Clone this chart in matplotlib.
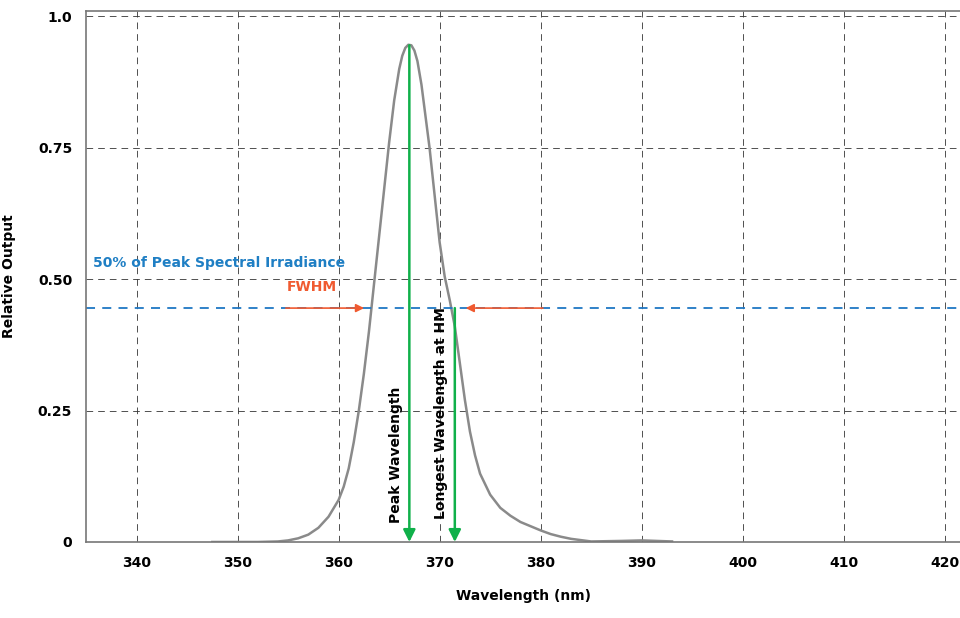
import numpy as np
import matplotlib.pyplot as plt

wl = [347.5, 350, 352, 354, 355, 356, 357, 358, 359, 360, 360.5, 361, 361.5, 362, 362.5, 363,
      363.5, 364, 364.5, 365, 365.5, 366, 366.3, 366.6, 366.9, 367.2, 367.5, 367.8, 368.2, 368.6,
      369, 369.5, 370, 370.5, 371, 371.5, 372, 372.5, 373, 373.5, 374, 375, 376, 377, 378, 379,
      380, 381, 382, 383, 385, 388, 390, 393]
rel = [0.0, 0.0, 0.0, 0.001, 0.003, 0.007, 0.014, 0.027, 0.048, 0.08, 0.105, 0.14, 0.19, 0.25,
       0.32, 0.40, 0.49, 0.58, 0.67, 0.76, 0.84, 0.9, 0.925, 0.94, 0.946, 0.945, 0.935, 0.915,
       0.87, 0.81, 0.75, 0.66, 0.57, 0.505, 0.46, 0.41, 0.34, 0.27, 0.21, 0.165, 0.13, 0.09,
       0.065, 0.05, 0.038, 0.03, 0.022, 0.015, 0.01, 0.006, 0.001, 0.002, 0.003, 0.001]
half_max = 0.445
peak_wl = 367.0
long_wl = 371.5

fig = plt.figure(figsize=(9.6, 6.18), dpi=100)
ax = fig.add_axes([0.0896, 0.123, 0.9104, 0.859])
ax.plot(wl, rel, color="#8a8a8a", lw=1.8)
ax.set_xlim(335, 421.5)
ax.set_ylim(0, 1.01)
ax.set_xticks(range(340, 421, 10))
ax.set_yticks([0, 0.25, 0.5, 0.75, 1.0])
ax.set_yticklabels(["0", "0.25", "0.50", "0.75", "1.0"])
ax.grid(True, color="#333333", ls=(0, (8, 6)), lw=0.6)
ax.spines["right"].set_visible(False)
for s in ["left", "bottom", "top"]:
    ax.spines[s].set_color("#777777")
    ax.spines[s].set_linewidth(1.2)
ax.tick_params(length=0, pad=10, labelsize=10)
for lab in ax.get_xticklabels() + ax.get_yticklabels():
    lab.set_fontweight("bold")
ax.set_xlabel("Wavelength (nm)", fontweight="bold", fontsize=10, labelpad=14)
ax.set_ylabel("Relative Output", fontweight="bold", fontsize=10, labelpad=16)

ax.axhline(half_max, color="#1f77c4", ls=(0, (5, 4)), lw=1.3)
ax.text(335.7, 0.53, "50% of Peak Spectral Irradiance", color="#1f7fc4",
        fontweight="bold", fontsize=10, va="center")
ax.text(357.3, 0.485, "FWHM", color="#f05a30", fontweight="bold", fontsize=10, ha="center", va="center")

red = dict(arrowstyle="-|>", color="#f05a30", lw=1.2, mutation_scale=12)
ax.annotate("", xy=(362.8, half_max), xytext=(354.5, half_max), arrowprops=red)
ax.annotate("", xy=(372.3, half_max), xytext=(380.5, half_max), arrowprops=red)

green = dict(arrowstyle="-|>", color="#10b04a", lw=1.8, mutation_scale=18, shrinkA=0, shrinkB=0)
ax.annotate("", xy=(peak_wl, 0), xytext=(peak_wl, 0.945), arrowprops=green)
ax.annotate("", xy=(long_wl, 0), xytext=(long_wl, half_max), arrowprops=green)
ax.text(365.7, 0.165, "Peak Wavelength", rotation=90, fontweight="bold", fontsize=10,
        ha="center", va="center")
ax.text(370.1, 0.245, "Longest Wavelength at HM", rotation=90, fontweight="bold", fontsize=10,
        ha="center", va="center")

fig.savefig("out.png")
